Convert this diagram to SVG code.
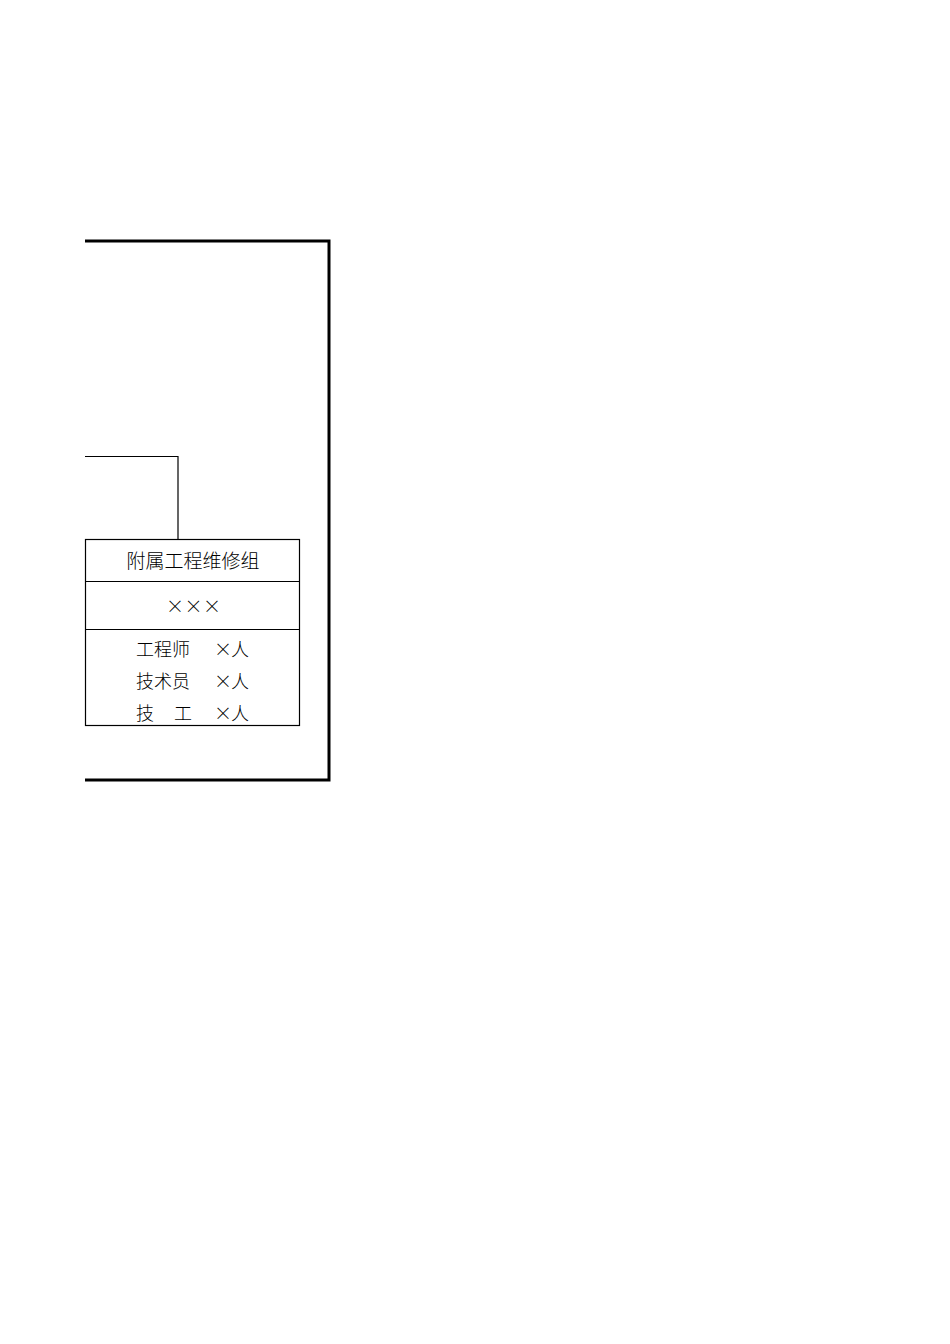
<svg xmlns="http://www.w3.org/2000/svg" width="950" height="1344" viewBox="0 0 950 1344">
<style>
.frame{fill:none;stroke:#000;stroke-width:3}
.line{fill:none;stroke:#000;stroke-width:1.2}
.t{font-family:"Noto Sans CJK SC","Liberation Serif",serif;font-size:18px;font-weight:300;fill:#000}
.c{text-anchor:middle}
</style>
<rect width="950" height="1344" fill="#fff"/>
<g id="connectors">
<polyline class="frame" points="85,241 329,241 329,780 85,780"/>
<polyline class="line" points="85,456.5 178,456.5 178,539"/>
</g>
<g id="node-attached-maintenance">
<rect class="line" x="85.5" y="539.5" width="214" height="186"/>
<line class="line" x1="85.5" y1="581.5" x2="299.5" y2="581.5"/>
<line class="line" x1="85.5" y1="629.5" x2="299.5" y2="629.5"/>
<text class="t c" x="193" y="568" style="font-size:19px">附属工程维修组</text>
<text class="t"><tspan x="166" y="613">×</tspan><tspan x="184.5" y="613">×</tspan><tspan x="203" y="613">×</tspan></text>
<text class="t" x="136" y="656">工程师</text>
<text class="t"><tspan x="214" y="656">×</tspan><tspan x="231" y="656">人</tspan></text>
<text class="t" x="136" y="688">技术员</text>
<text class="t"><tspan x="214" y="688">×</tspan><tspan x="231" y="688">人</tspan></text>
<text class="t"><tspan x="136" y="720">技</tspan><tspan x="174" y="720">工</tspan></text>
<text class="t"><tspan x="214" y="720">×</tspan><tspan x="231" y="720">人</tspan></text>
</g>
</svg>
